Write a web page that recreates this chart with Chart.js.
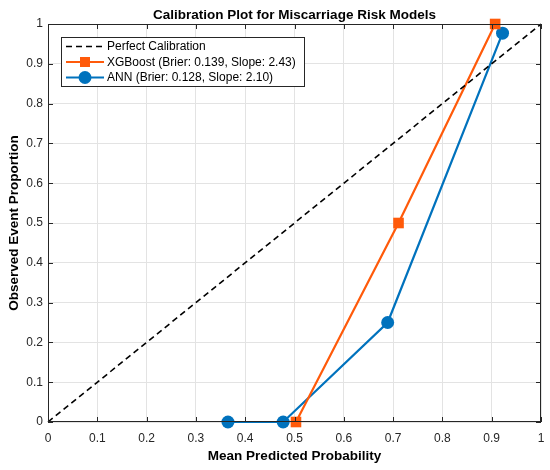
<!DOCTYPE html>
<html>
<head>
<meta charset="utf-8">
<script src="https://cdn.jsdelivr.net/npm/chart.js@4"></script>
<style>
  html, body { margin: 0; padding: 0; background: #fff; }
  #wrap { width: 550px; height: 470px; }
</style>
</head>
<body>
<div id="wrap"><canvas id="calib" width="550" height="470"></canvas></div>
<script>
// data
const xgbX = [0.503, 0.711, 0.907];
const xgbY = [0, 0.5, 1.0];
const annX = [0.365, 0.477, 0.689, 0.922];
const annY = [0, 0, 0.25, 0.977];
const perfectX = [0, 1];
const perfectY = [0, 1];
const xTicks = [0, 0.1, 0.2, 0.3, 0.4, 0.5, 0.6, 0.7, 0.8, 0.9, 1];
const yTicks = [0, 0.1, 0.2, 0.3, 0.4, 0.5, 0.6, 0.7, 0.8, 0.9, 1];

const labels = [
  "Perfect Calibration",
  "XGBoost (Brier: 0.139, Slope: 2.43)",
  "ANN (Brier: 0.128, Slope: 2.10)",
];

const ORANGE = "#ff5a0a";
const BLUE = "#0072bd";
const FONT = "Arial, 'Liberation Sans', sans-serif";

function pts(xs, ys) {
  return xs.map((x, i) => ({ x: x, y: ys[i] }));
}

// matlab-ish box + inward ticks, title and legend
const matlabAxes = {
  id: "matlabAxes",
  afterDraw(chart) {
    const ctx = chart.ctx;
    const a = chart.chartArea;
    const xs = chart.scales.x, ys = chart.scales.y;
    ctx.save();
    ctx.strokeStyle = "#262626";
    ctx.lineWidth = 1;
    // box
    ctx.strokeRect(a.left + 0.5, a.top + 0.5, a.right - a.left - 1, a.bottom - a.top - 1);
    // inward ticks
    ctx.beginPath();
    xTicks.forEach(v => {
      const px = Math.round(xs.getPixelForValue(v)) + 0.5;
      ctx.moveTo(px, a.bottom); ctx.lineTo(px, a.bottom - 5);
      ctx.moveTo(px, a.top); ctx.lineTo(px, a.top + 5);
    });
    yTicks.forEach(v => {
      const py = Math.round(ys.getPixelForValue(v)) + 0.5;
      ctx.moveTo(a.left, py); ctx.lineTo(a.left + 5, py);
      ctx.moveTo(a.right, py); ctx.lineTo(a.right - 5, py);
    });
    ctx.stroke();

    // title
    ctx.fillStyle = "#000";
    ctx.font = "bold 13.5px " + FONT;
    ctx.textAlign = "center";
    ctx.textBaseline = "alphabetic";
    ctx.fillText("Calibration Plot for Miscarriage Risk Models", (a.left + a.right) / 2, 19);

    // legend
    const lx = 61, ly = 37, lw = 243, lh = 49;
    ctx.fillStyle = "#fff";
    ctx.fillRect(lx, ly, lw, lh);
    ctx.strokeStyle = "#262626";
    ctx.lineWidth = 1;
    ctx.strokeRect(lx + 0.5, ly + 0.5, lw, lh);
    const rows = [46.5, 62, 77.5];
    chart.data.datasets.forEach((ds, i) => {
      const ry = rows[i];
      ctx.strokeStyle = ds.borderColor;
      ctx.lineWidth = ds.borderWidth;
      ctx.setLineDash(ds.borderDash || []);
      ctx.beginPath();
      ctx.moveTo(66, ry); ctx.lineTo(104, ry);
      ctx.stroke();
      ctx.setLineDash([]);
      ctx.fillStyle = ds.borderColor;
      if (ds.pointStyle === "rect") {
        ctx.fillRect(85 - 5, ry - 5, 10, 10);
      } else if (ds.pointStyle === "circle") {
        ctx.beginPath();
        ctx.arc(85, ry, 6.5, 0, Math.PI * 2);
        ctx.fill();
      }
      ctx.fillStyle = "#000";
      ctx.font = "12px " + FONT;
      ctx.textAlign = "left";
      ctx.textBaseline = "middle";
      ctx.fillText(ds.label, 107, ry + 0.5);
    });
    ctx.restore();
  }
};

const config = {
  type: "line",
  data: {
    datasets: [
      {
        label: labels[0],
        data: pts(perfectX, perfectY),
        borderColor: "#000",
        borderWidth: 1.6,
        borderDash: [6, 4],
        pointRadius: 0,
        pointStyle: false,
      },
      {
        label: labels[1],
        data: pts(xgbX, xgbY),
        borderColor: ORANGE,
        backgroundColor: ORANGE,
        borderWidth: 2.2,
        pointStyle: "rect",
        pointRadius: 7.5,
        pointBorderWidth: 0,
      },
      {
        label: labels[2],
        data: pts(annX, annY),
        borderColor: BLUE,
        backgroundColor: BLUE,
        borderWidth: 2.2,
        pointStyle: "circle",
        pointRadius: 6.5,
        pointBorderWidth: 0,
      },
    ],
  },
  options: {
    responsive: false,
    animation: false,
    clip: false,
    layout: { autoPadding: false, padding: { top: 24, right: 9, left: 0, bottom: 0 } },
    plugins: {
      legend: { display: false },
      title: { display: false },
      tooltip: { enabled: false },
    },
    scales: {
      x: {
        type: "linear",
        min: 0,
        max: 1,
        afterBuildTicks: (s) => { s.ticks = xTicks.map(v => ({ value: v })); },
        afterFit: (s) => {
          s.height = 48;
          // stop the label overhang from shrinking the plot
          s.paddingLeft = 0;
          s.paddingRight = 0;
        },
        ticks: {
          color: "#262626",
          font: { size: 12, family: FONT },
          padding: 9,
          maxRotation: 0,
          callback: (v) => String(v),
        },
        grid: { color: "#e3e3e3", drawTicks: false, lineWidth: 1 },
        border: { display: false },
        title: {
          display: true,
          text: "Mean Predicted Probability",
          color: "#000",
          font: { size: 13.5, weight: "bold", family: FONT },
          padding: { top: 4, bottom: 6 },
        },
      },
      y: {
        type: "linear",
        min: 0,
        max: 1,
        afterBuildTicks: (s) => { s.ticks = yTicks.map(v => ({ value: v })); },
        afterFit: (s) => { s.width = 48; },
        ticks: {
          color: "#262626",
          font: { size: 12, family: FONT },
          padding: 5,
          callback: (v) => String(v),
        },
        grid: { color: "#e3e3e3", drawTicks: false, lineWidth: 1 },
        border: { display: false },
        title: {
          display: true,
          text: "Observed Event Proportion",
          color: "#000",
          font: { size: 13.5, weight: "bold", family: FONT },
          padding: { top: 6, bottom: 2 },
        },
      },
    },
  },
  plugins: [matlabAxes],
};

const myChart = new Chart(document.getElementById("calib"), config);
</script>
</body>
</html>
